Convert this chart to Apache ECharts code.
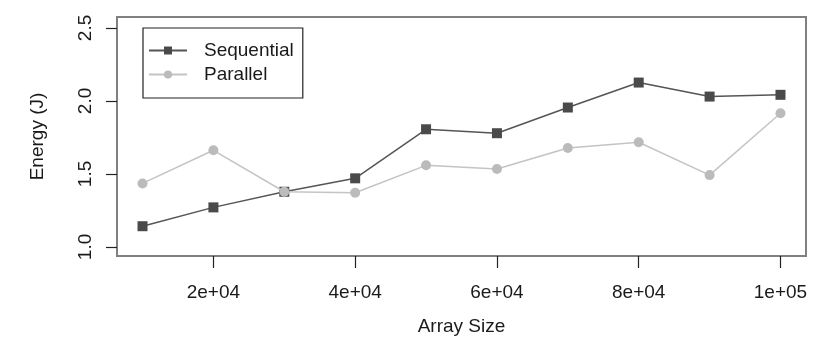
<!DOCTYPE html>
<html>
<head>
<meta charset="utf-8">
<script src="https://cdn.jsdelivr.net/npm/echarts@6/dist/echarts.min.js"></script>
<style>
  html, body { margin: 0; padding: 0; background: #fff; }
  #chart { width: 830px; height: 344px; }
</style>
</head>
<body>
<div id="chart"></div>
<script>
// array sizes and energy readings (J)
const arraySizes = [10000, 20000, 30000, 40000, 50000, 60000, 70000, 80000, 90000, 100000];
const sequential = [1.142, 1.271, 1.378, 1.470, 1.806, 1.779, 1.955, 2.126, 2.030, 2.042];
const parallel = [1.435, 1.662, 1.378, 1.371, 1.559, 1.534, 1.678, 1.717, 1.492, 1.916];
const xTicks = [20000, 40000, 60000, 80000, 100000];
const xTickLabels = ['2e+04', '4e+04', '6e+04', '8e+04', '1e+05'];
const yTicks = [1.0, 1.5, 2.0, 2.5];

const font = "'Liberation Sans', Arial, sans-serif";
const textColor = '#1a1a1a';

const chart = echarts.init(document.getElementById('chart'));

const toPairs = (ys) => arraySizes.map((x, i) => [x, ys[i]]);

const option = {
  backgroundColor: '#fff',
  animation: false,
  textStyle: { fontFamily: font },
  grid: {
    left: 117,
    right: 24,
    top: 17,
    bottom: 88,
    show: true,
    borderColor: '#808080',
    borderWidth: 2
  },
  legend: {
    orient: 'vertical',
    left: 143,
    top: 28,
    padding: [13, 9, 14, 5],
    itemWidth: 38,
    itemHeight: 10,
    itemGap: 5,
    borderColor: '#222',
    borderWidth: 1.2,
    textStyle: { fontSize: 19, color: textColor, fontFamily: font, padding: [0, 0, 0, 12] },
    data: ['Sequential', 'Parallel']
  },
  xAxis: {
    type: 'value',
    min: 6400,
    max: 103600,
    name: 'Array Size',
    nameLocation: 'middle',
    nameGap: 61,
    nameTextStyle: { fontSize: 19, color: textColor, fontFamily: font, verticalAlign: 'top' },
    axisLine: { show: false },
    splitLine: { show: false },
    axisTick: { show: true, length: 12, customValues: xTicks, lineStyle: { color: '#222', width: 1.2 } },
    axisLabel: {
      customValues: xTicks,
      margin: 27,
      fontSize: 19,
      color: textColor,
      fontFamily: font,
      formatter: (v) => xTickLabels[xTicks.indexOf(v)]
    }
  },
  yAxis: {
    type: 'value',
    min: 0.938,
    max: 2.575,
    name: 'Energy (J)',
    nameLocation: 'middle',
    nameRotate: 90,
    nameGap: 70,
    nameTextStyle: { fontSize: 19, color: textColor, fontFamily: font },
    axisLine: { show: false },
    splitLine: { show: false },
    axisTick: { show: true, length: 11, customValues: yTicks, lineStyle: { color: '#222', width: 1.2 } },
    axisLabel: {
      customValues: yTicks,
      rotate: 90,
      margin: 22,
      fontSize: 19,
      color: textColor,
      fontFamily: font,
      formatter: (v) => v.toFixed(1)
    }
  },
  series: [
    {
      name: 'Sequential',
      type: 'line',
      data: toPairs(sequential),
      symbol: 'rect',
      symbolSize: 10,
      itemStyle: { color: '#4a4a4a' },
      lineStyle: { color: '#555', width: 1.5 },
      z: 2
    },
    {
      name: 'Parallel',
      type: 'line',
      data: toPairs(parallel),
      symbol: 'circle',
      symbolSize: 10,
      itemStyle: { color: '#bbbbbb' },
      lineStyle: { color: '#c4c4c4', width: 1.5 },
      z: 3
    }
  ]
};

chart.setOption(option);
</script>
</body>
</html>
